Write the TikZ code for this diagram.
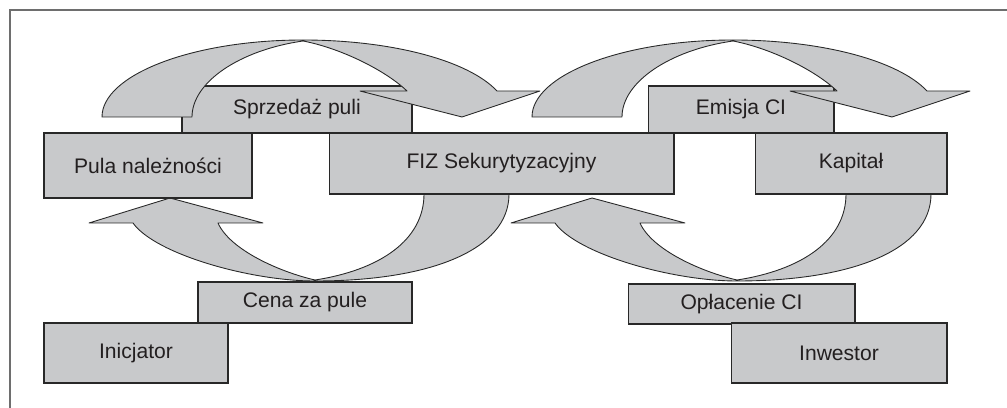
\documentclass[tikz,border=0pt]{standalone}
\usepackage{fontspec}
\setmainfont{Liberation Sans}
\definecolor{boxgray}{RGB}{200,201,203}
\definecolor{linegray}{RGB}{40,40,40}
\definecolor{framegray}{RGB}{110,110,110}
\definecolor{textgray}{RGB}{35,31,32}

\begin{document}
\begin{tikzpicture}[x=0.02cm,y=-0.02cm]
        \tikzstyle{box}=[rectangle,draw=linegray,fill=boxgray,line width=0.6pt,inner sep=0pt,outer sep=0pt,text=textgray,font=\fontsize{12}{14}\selectfont]
        \tikzstyle{band}=[draw=linegray,fill=boxgray,line width=0.5pt,line join=round]
        \useasboundingbox (0,0) rectangle (1007,408);
        \draw[framegray,line width=0.8pt] (10,408) -- (10,10) -- (1007,10);

        % flow labels (under the arrows)
        \foreach \name/\x/\y/\w/\h/\txt in {sprzedaz/297/109.5/4.6/0.94/Sprzedaż puli, emisja/741/109.5/3.72/0.94/Emisja CI,
                        cena/305/302.5/4.28/0.82/Cena za pule, oplacenie/741.5/304/4.54/0.8/Opłacenie CI}
                \node[box,minimum width=\w cm,minimum height=\h cm] (\name) at (\x,\y) {\txt};

        % curved arrows
        \foreach \dx in {0,430}
                \filldraw[band,shift={(\dx,0)}] (102,117) .. controls (102,75) and (192,40) .. (303,40)
                        .. controls (390,40) and (468,60) .. (497,91) -- (540,91) -- (462,117) -- (360,91) -- (407,91)
                        .. controls (385,70) and (340,48) .. (303,41)
                        .. controls (240,50) and (192,82) .. (192,117) -- cycle;
        \foreach \dx in {0,422}
                \filldraw[band,shift={(\dx,0)}] (509,194) .. controls (509,250) and (430,281) .. (315,281)
                        .. controls (250,281) and (155,254) .. (133,223) -- (89,223) -- (170,198) -- (263,223) -- (218,223)
                        .. controls (230,250) and (280,272) .. (315,280)
                        .. controls (380,270) and (424,240) .. (424,194) -- cycle;

        % parties
        \foreach \name/\x/\y/\w/\h/\txt in {pula/148/165.5/4.16/1.3/Pula należności, fiz/501.5/163.5/6.9/1.22/FIZ Sekurytyzacyjny,
                        kapital/851/163.5/3.84/1.22/Kapitał, inicjator/136/353/3.68/1.2/Inicjator, inwestor/839/353/4.32/1.2/Inwestor}
                \node[box,minimum width=\w cm,minimum height=\h cm] (\name) at (\x,\y) {\txt};

\end{tikzpicture}
\end{document}
